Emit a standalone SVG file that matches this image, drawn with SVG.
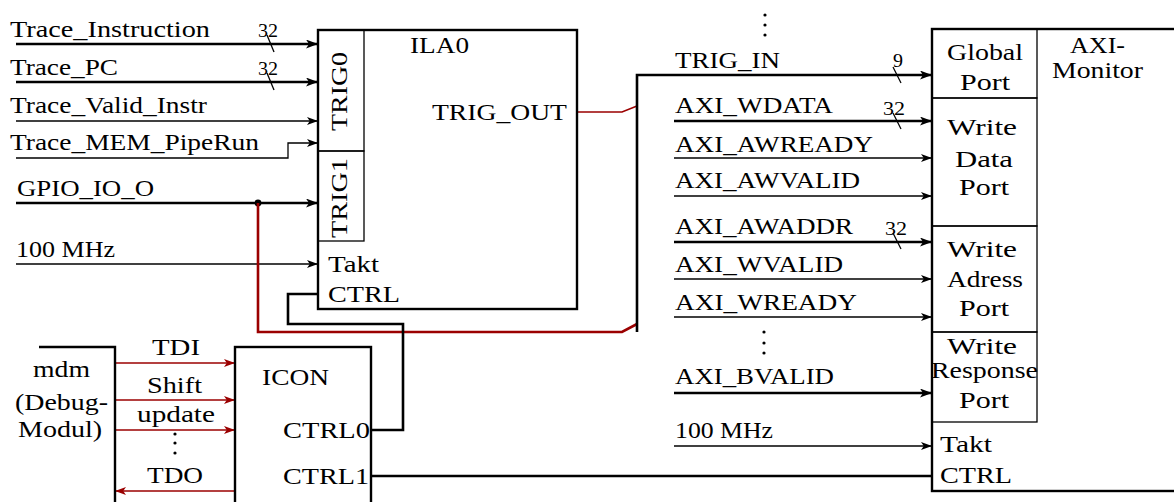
<svg xmlns="http://www.w3.org/2000/svg" width="1174" height="502" viewBox="0 0 1174 502">
<defs>
<style>
.t{font-family:"Liberation Serif","Times New Roman",serif;font-size:24px;fill:#000}
.s{font-family:"Liberation Serif","Times New Roman",serif;font-size:18px;fill:#000}
.box{fill:none;stroke:#000;stroke-width:2.4}
.sub{fill:none;stroke:#000;stroke-width:1.3}
.thick{fill:none;stroke:#000;stroke-width:2.6}
.thin{fill:none;stroke:#000;stroke-width:1.3}
.rthin{fill:none;stroke:#9b0000;stroke-width:1.6}
.rthick{fill:none;stroke:#9b0000;stroke-width:2.6}
.dot{fill:#000}
</style>
<marker id="ak" viewBox="0 0 12 9" markerWidth="12" markerHeight="9" refX="12" refY="4.5" orient="auto" markerUnits="userSpaceOnUse">
<path d="M0,0 L12,4.5 L0,9 L3,4.5 z" fill="#000"/>
</marker>
<marker id="an" viewBox="0 0 11 8" markerWidth="11" markerHeight="8" refX="11" refY="4" orient="auto" markerUnits="userSpaceOnUse">
<path d="M0,0 L11,4 L0,8 L2.8,4 z" fill="#000"/>
</marker>
<marker id="ar" viewBox="0 0 11 8" markerWidth="11" markerHeight="8" refX="11" refY="4" orient="auto" markerUnits="userSpaceOnUse">
<path d="M0,0 L11,4 L0,8 L2.8,4 z" fill="#9b0000"/>
</marker>
</defs>

<g id="connectors">
<!-- left inputs to ILA0 -->
<path class="thick" d="M16,44 H318" marker-end="url(#ak)"/>
<path class="thick" d="M16,82 H318" marker-end="url(#ak)"/>
<path class="thin" d="M16,121 H318" marker-end="url(#an)"/>
<path class="thin" d="M16,158 H288 V143 H318" marker-end="url(#an)"/>
<path class="thick" d="M16,203 H318" marker-end="url(#ak)"/>
<path class="thin" d="M16,264 H318" marker-end="url(#an)"/>
<!-- bus slashes -->
<path class="thin" d="M267,35 L274,52"/>
<path class="thin" d="M267,73 L274,90"/>
<text class="s" x="258" y="37" textLength="20" lengthAdjust="spacingAndGlyphs">32</text>
<text class="s" x="258" y="75" textLength="20" lengthAdjust="spacingAndGlyphs">32</text>
<!-- junction and red branch -->
<circle class="dot" cx="258" cy="203" r="3.4"/>
<path class="rthick" d="M258,203 V332 H622 L637,324"/>
<path class="rthin" d="M577,112 H622 L637,106"/>
<!-- trigger bus -->
<path class="thick" d="M637,332 V75 H932" marker-end="url(#ak)"/>
<path class="thin" d="M893,67 L901,83"/>
<text class="s" x="893" y="67" textLength="10" lengthAdjust="spacingAndGlyphs">9</text>
<!-- ILA CTRL to ICON CTRL0 -->
<path class="thick" d="M318,294 H288 V324 H403 V430 H371"/>
<!-- ICON CTRL1 to AXI monitor -->
<path class="thick" d="M371,476 H932"/>
<!-- mdm <-> ICON -->
<path class="rthin" d="M115,363 H235" marker-end="url(#ar)"/>
<path class="rthin" d="M115,400 H235" marker-end="url(#ar)"/>
<path class="rthin" d="M115,430 H235" marker-end="url(#ar)"/>
<path class="rthin" d="M235,491 H115" marker-end="url(#ar)"/>
<!-- AXI inputs -->
<path class="thick" d="M674,121 H932" marker-end="url(#ak)"/>
<path class="thin" d="M893,113 L901,129"/>
<text class="s" x="883" y="115" textLength="22" lengthAdjust="spacingAndGlyphs">32</text>
<path class="thin" d="M674,158 H932" marker-end="url(#an)"/>
<path class="thin" d="M674,196 H932" marker-end="url(#an)"/>
<path class="thick" d="M674,242 H932" marker-end="url(#ak)"/>
<path class="thin" d="M893,233 L901,249"/>
<text class="s" x="885" y="235" textLength="22" lengthAdjust="spacingAndGlyphs">32</text>
<path class="thin" d="M674,279 H932" marker-end="url(#an)"/>
<path class="thin" d="M674,317 H932" marker-end="url(#an)"/>
<path class="thick" d="M674,393 H932" marker-end="url(#ak)"/>
<path class="thin" d="M674,446 H932" marker-end="url(#an)"/>
</g>

<g id="signal-labels">
<text class="t" x="10" y="37" textLength="200" lengthAdjust="spacingAndGlyphs">Trace_Instruction</text>
<text class="t" x="10" y="75" textLength="108" lengthAdjust="spacingAndGlyphs">Trace_PC</text>
<text class="t" x="10" y="113" textLength="197" lengthAdjust="spacingAndGlyphs">Trace_Valid_Instr</text>
<text class="t" x="10" y="150" textLength="249" lengthAdjust="spacingAndGlyphs">Trace_MEM_PipeRun</text>
<text class="t" x="17" y="196" textLength="137" lengthAdjust="spacingAndGlyphs">GPIO_IO_O</text>
<text class="t" x="16" y="257" textLength="99" lengthAdjust="spacingAndGlyphs">100 MHz</text>
<text class="t" x="152" y="355" textLength="48" lengthAdjust="spacingAndGlyphs">TDI</text>
<text class="t" x="147" y="393" textLength="55" lengthAdjust="spacingAndGlyphs">Shift</text>
<text class="t" x="137" y="422" textLength="78" lengthAdjust="spacingAndGlyphs">update</text>
<circle class="dot" cx="175" cy="434" r="1.6"/>
<circle class="dot" cx="175" cy="443" r="1.6"/>
<circle class="dot" cx="175" cy="453" r="1.6"/>
<text class="t" x="147" y="483" textLength="56" lengthAdjust="spacingAndGlyphs">TDO</text>
<circle class="dot" cx="765" cy="15" r="1.6"/>
<circle class="dot" cx="765" cy="25" r="1.6"/>
<circle class="dot" cx="765" cy="35" r="1.6"/>
<text class="t" x="675" y="68" textLength="105" lengthAdjust="spacingAndGlyphs">TRIG_IN</text>
<text class="t" x="675" y="113" textLength="158" lengthAdjust="spacingAndGlyphs">AXI_WDATA</text>
<text class="t" x="675" y="152" textLength="198" lengthAdjust="spacingAndGlyphs">AXI_AWREADY</text>
<text class="t" x="675" y="188" textLength="185" lengthAdjust="spacingAndGlyphs">AXI_AWVALID</text>
<text class="t" x="675" y="234" textLength="178" lengthAdjust="spacingAndGlyphs">AXI_AWADDR</text>
<text class="t" x="675" y="272" textLength="168" lengthAdjust="spacingAndGlyphs">AXI_WVALID</text>
<text class="t" x="675" y="310" textLength="182" lengthAdjust="spacingAndGlyphs">AXI_WREADY</text>
<circle class="dot" cx="764" cy="332" r="1.6"/>
<circle class="dot" cx="764" cy="343" r="1.6"/>
<circle class="dot" cx="764" cy="353" r="1.6"/>
<text class="t" x="675" y="384" textLength="159" lengthAdjust="spacingAndGlyphs">AXI_BVALID</text>
<text class="t" x="675" y="438" textLength="98" lengthAdjust="spacingAndGlyphs">100 MHz</text>
</g>

<g id="ILA0">
<rect class="sub" x="318" y="30" width="46" height="121"/>
<rect class="sub" x="318" y="151" width="46" height="90"/>
<rect class="box" x="318" y="30" width="259" height="279"/>
<text class="t" x="410" y="53" textLength="59" lengthAdjust="spacingAndGlyphs">ILA0</text>
<text class="t" transform="translate(347,91.5) rotate(-90)" x="0" y="0" text-anchor="middle" textLength="79" lengthAdjust="spacingAndGlyphs">TRIG0</text>
<text class="t" transform="translate(347,198) rotate(-90)" x="0" y="0" text-anchor="middle" textLength="80" lengthAdjust="spacingAndGlyphs">TRIG1</text>
<text class="t" x="432" y="120" textLength="135" lengthAdjust="spacingAndGlyphs">TRIG_OUT</text>
<text class="t" x="328" y="272" textLength="51" lengthAdjust="spacingAndGlyphs">Takt</text>
<text class="t" x="328" y="302" textLength="72" lengthAdjust="spacingAndGlyphs">CTRL</text>
</g>

<g id="ICON">
<rect class="box" x="235" y="347" width="136" height="200"/>
<text class="t" x="262" y="385" textLength="67" lengthAdjust="spacingAndGlyphs">ICON</text>
<text class="t" x="283" y="438" textLength="87" lengthAdjust="spacingAndGlyphs">CTRL0</text>
<text class="t" x="283" y="484" textLength="86" lengthAdjust="spacingAndGlyphs">CTRL1</text>
</g>

<g id="mdm">
<path class="box" d="M39,347 H115 V510"/>
<text class="t" x="33" y="377" textLength="57" lengthAdjust="spacingAndGlyphs">mdm</text>
<text class="t" x="15" y="410" textLength="93" lengthAdjust="spacingAndGlyphs">(Debug-</text>
<text class="t" x="18" y="437" textLength="84" lengthAdjust="spacingAndGlyphs">Modul)</text>
</g>

<g id="AXI-Monitor">
<rect class="sub" x="932" y="29" width="105" height="69"/>
<rect class="sub" x="932" y="98" width="105" height="128"/>
<rect class="sub" x="932" y="226" width="105" height="106"/>
<rect class="sub" x="932" y="332" width="105" height="90"/>
<rect class="box" x="932" y="29" width="300" height="462"/>
<text class="t" x="985" y="60" text-anchor="middle" textLength="76" lengthAdjust="spacingAndGlyphs">Global</text>
<text class="t" x="985" y="90" text-anchor="middle" textLength="50" lengthAdjust="spacingAndGlyphs">Port</text>
<text class="t" x="982" y="135" text-anchor="middle" textLength="70" lengthAdjust="spacingAndGlyphs">Write</text>
<text class="t" x="984" y="167" text-anchor="middle" textLength="58" lengthAdjust="spacingAndGlyphs">Data</text>
<text class="t" x="984" y="195" text-anchor="middle" textLength="50" lengthAdjust="spacingAndGlyphs">Port</text>
<text class="t" x="982" y="257" text-anchor="middle" textLength="70" lengthAdjust="spacingAndGlyphs">Write</text>
<text class="t" x="985" y="287" text-anchor="middle" textLength="76" lengthAdjust="spacingAndGlyphs">Adress</text>
<text class="t" x="984" y="316" text-anchor="middle" textLength="50" lengthAdjust="spacingAndGlyphs">Port</text>
<text class="t" x="982" y="354" text-anchor="middle" textLength="70" lengthAdjust="spacingAndGlyphs">Write</text>
<text class="t" x="984.5" y="378" text-anchor="middle" textLength="107" lengthAdjust="spacingAndGlyphs">Response</text>
<text class="t" x="984" y="408" text-anchor="middle" textLength="50" lengthAdjust="spacingAndGlyphs">Port</text>
<text class="t" x="940" y="452" textLength="52" lengthAdjust="spacingAndGlyphs">Takt</text>
<text class="t" x="940" y="483" textLength="72" lengthAdjust="spacingAndGlyphs">CTRL</text>
<text class="t" x="1070" y="53" textLength="55" lengthAdjust="spacingAndGlyphs">AXI-</text>
<text class="t" x="1052" y="78" textLength="91" lengthAdjust="spacingAndGlyphs">Monitor</text>
</g>
</svg>
